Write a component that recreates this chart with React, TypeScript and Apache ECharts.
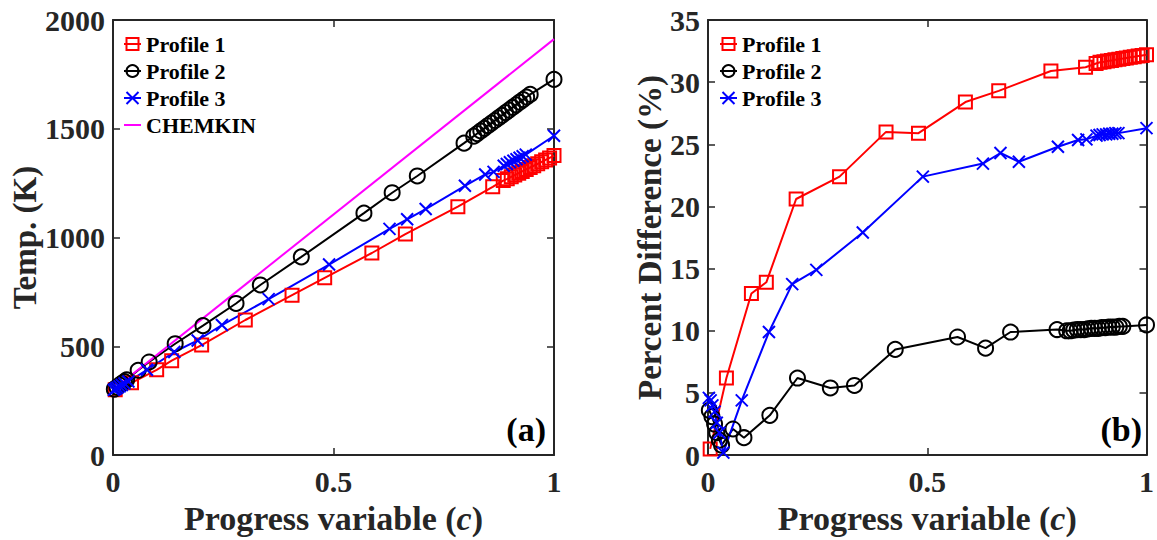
import React, { useEffect, useRef } from "react";
import * as echarts from "echarts";

// ---------- data ----------
const xTickInterval = 0.5;
const tempTicks = { min: 0, max: 2000, interval: 500 };
const pdTicks = { min: 0, max: 35, interval: 5 };

const seriesNames = ["Profile 1", "Profile 2", "Profile 3", "CHEMKIN"];

// Profile 1
const c1 = [0.005, 0.042, 0.099, 0.133, 0.201, 0.3, 0.406, 0.48, 0.587, 0.663, 0.782, 0.861, 0.885, 0.894, 0.903, 0.911, 0.92, 0.928, 0.937, 0.946, 0.954, 0.963, 0.972, 0.981, 0.99, 1.0];
const T1 = [300, 332, 392, 434, 506, 621, 735, 815, 929, 1016, 1142, 1233, 1262, 1270, 1279, 1287, 1296, 1304, 1313, 1322, 1330, 1339, 1348, 1357, 1366, 1377];
const pd1 = [0.5, 6.2, 13.0, 13.9, 20.6, 22.4, 26.0, 25.9, 28.4, 29.3, 30.9, 31.2, 31.5, 31.6, 31.65, 31.7, 31.75, 31.8, 31.85, 31.9, 31.95, 32.0, 32.05, 32.1, 32.15, 32.2];

// Profile 2
const c2 = [0.003, 0.009, 0.015, 0.02, 0.026, 0.031, 0.057, 0.082, 0.141, 0.204, 0.279, 0.334, 0.427, 0.569, 0.633, 0.69, 0.796, 0.818, 0.826, 0.834, 0.842, 0.85, 0.858, 0.866, 0.874, 0.882, 0.89, 0.898, 0.906, 0.914, 0.922, 0.93, 0.938, 0.946, 1.0];
const T2 = [303, 312, 322, 330, 338, 346, 390, 428, 512, 595, 697, 782, 911, 1112, 1206, 1283, 1434, 1466, 1478, 1490, 1502, 1514, 1526, 1538, 1550, 1562, 1574, 1586, 1598, 1610, 1622, 1634, 1646, 1658, 1727];
const pd2 = [3.6, 3.1, 2.5, 1.8, 1.2, 0.8, 2.1, 1.4, 3.2, 6.2, 5.4, 5.6, 8.5, 9.5, 8.6, 9.9, 10.1, 10.0, 10.0, 10.05, 10.1, 10.1, 10.1, 10.15, 10.2, 10.2, 10.2, 10.25, 10.25, 10.3, 10.3, 10.3, 10.35, 10.35, 10.47];

// Profile 3
const c3 = [0.002, 0.006, 0.01, 0.015, 0.02, 0.026, 0.035, 0.077, 0.139, 0.192, 0.247, 0.353, 0.49, 0.627, 0.667, 0.709, 0.798, 0.844, 0.863, 0.886, 0.893, 0.9, 0.908, 0.915, 0.922, 0.929, 0.936, 1.0];
const T3 = [300, 305, 310, 316, 322, 329, 338, 392, 474, 527, 598, 717, 876, 1040, 1084, 1131, 1238, 1290, 1302, 1330, 1338, 1346, 1353, 1360, 1367, 1374, 1381, 1468];
const pd3 = [4.6, 4.4, 4.0, 3.5, 2.6, 1.8, 0.2, 4.4, 9.9, 13.75, 14.9, 17.9, 22.4, 23.45, 24.3, 23.6, 24.8, 25.35, 25.4, 25.7, 25.75, 25.8, 25.8, 25.85, 25.85, 25.9, 25.9, 26.3];

// CHEMKIN
const cC = [0, 1];
const TC = [300, 1912];

// ---------- style ----------
const FONT = "'Liberation Serif', 'Times New Roman', serif";
const AX = "#262626";
const COLORS = ["#ff0000", "#000000", "#0000ff", "#ff00ff"];
const SYMBOLS = ["rect", "circle", "path://M0,0L10,10M10,0L0,10"];
const SYM_SIZE = [13, 15, 12];

const pairs = (x: number[], y: number[]) => x.map((v, i) => [v, y[i]]);

function App() {
  const ref = useRef<HTMLDivElement>(null);
  useEffect(() => {
    if (!ref.current) return;
    const chart = echarts.init(ref.current, undefined, { renderer: "svg" });

    const axisLine = { show: true, onZero: false, lineStyle: { color: AX, width: 2 } };
    const axisTick = { show: true, inside: true, length: 7, lineStyle: { color: AX, width: 1.5 } };
    const labelStyle = {
      fontSize: 30,
      fontWeight: "bold",
      color: AX,
      fontFamily: FONT,
      formatter: (v: number) => String(v),
    };
    const nameStyle = (size: number) => ({
      fontSize: size,
      fontWeight: "bold",
      color: AX,
      fontFamily: FONT,
      rich: { i: { fontSize: size, fontWeight: "bold", fontStyle: "italic", color: AX, fontFamily: FONT } },
    });

    const xAxisFor = (gridIndex: number, main: boolean) => ({
      type: "value",
      gridIndex,
      min: 0,
      max: 1,
      interval: xTickInterval,
      position: main ? "bottom" : "top",
      axisLine,
      axisTick,
      splitLine: { show: false },
      axisLabel: main ? { ...labelStyle, margin: 11 } : { show: false },
      name: main ? "Progress variable ({i|c})" : "",
      nameLocation: "middle",
      nameGap: 35,
      nameTextStyle: nameStyle(34),
    });

    const yAxisFor = (gridIndex: number, main: boolean, ticks: any, name: string, gap: number) => ({
      type: "value",
      gridIndex,
      min: ticks.min,
      max: ticks.max,
      interval: ticks.interval,
      position: main ? "left" : "right",
      axisLine,
      axisTick,
      splitLine: { show: false },
      axisLabel: main ? { ...labelStyle, margin: 8 } : { show: false },
      name: main ? name : "",
      nameLocation: "middle",
      nameGap: gap,
      nameRotate: 90,
      nameTextStyle: nameStyle(33),
    });

    const marked = (idx: number, xi: number, yi: number, data: number[][]) => ({
      type: "line",
      name: seriesNames[idx],
      xAxisIndex: xi,
      yAxisIndex: yi,
      data,
      symbol: SYMBOLS[idx],
      symbolSize: SYM_SIZE[idx],
      showSymbol: true,
      lineStyle: { color: COLORS[idx], width: 2 },
      itemStyle: { color: "rgba(0,0,0,0)", borderColor: COLORS[idx], borderWidth: 2 },
      emphasis: { disabled: true },
    });

    const legendFor = (left: number, data: string[]) => ({
      orient: "vertical",
      left,
      top: 28,
      itemWidth: 17,
      itemHeight: 15,
      itemGap: 5,
      data,
      textStyle: { fontSize: 22, fontWeight: "bold", color: "#000", fontFamily: FONT, lineHeight: 22 },
      selectedMode: false,
    });

    chart.setOption({
      animation: false,
      backgroundColor: "#ffffff",
      grid: [
        { left: 113, top: 20, width: 441, height: 439 },
        { left: 708, top: 20, width: 440, height: 439 },
      ],
      xAxis: [xAxisFor(0, true), xAxisFor(0, false), xAxisFor(1, true), xAxisFor(1, false)],
      yAxis: [
        yAxisFor(0, true, tempTicks, "Temp. (K)", 63),
        yAxisFor(0, false, tempTicks, "", 0),
        yAxisFor(1, true, pdTicks, "Percent Difference (%)", 41),
        yAxisFor(1, false, pdTicks, "", 0),
      ],
      legend: [
        legendFor(118, seriesNames),
        legendFor(714, seriesNames.slice(0, 3)),
      ],
      series: [
        marked(0, 0, 0, pairs(c1, T1)),
        marked(1, 0, 0, pairs(c2, T2)),
        marked(2, 0, 0, pairs(c3, T3)),
        {
          type: "line",
          name: seriesNames[3],
          xAxisIndex: 0,
          yAxisIndex: 0,
          data: pairs(cC, TC),
          showSymbol: false,
          symbol: "none",
          lineStyle: { color: COLORS[3], width: 2 },
          itemStyle: { color: "rgba(0,0,0,0)", borderWidth: 0 },
          emphasis: { disabled: true },
        },
        marked(0, 2, 2, pairs(c1, pd1)),
        marked(1, 2, 2, pairs(c2, pd2)),
        marked(2, 2, 2, pairs(c3, pd3)),
      ],
      graphic: [
        {
          type: "text",
          right: 1157 - 546,
          top: 412,
          style: { text: "(a)", fontSize: 34, fontWeight: "bold", fill: "#000", fontFamily: FONT },
        },
        {
          type: "text",
          right: 1157 - 1142,
          top: 412,
          style: { text: "(b)", fontSize: 34, fontWeight: "bold", fill: "#000", fontFamily: FONT },
        },
      ],
    });
    return () => chart.dispose();
  }, []);
  return <div ref={ref} style={{ position: "fixed", left: 0, top: 0, width: 1157, height: 540 }} />;
}

export default App;
